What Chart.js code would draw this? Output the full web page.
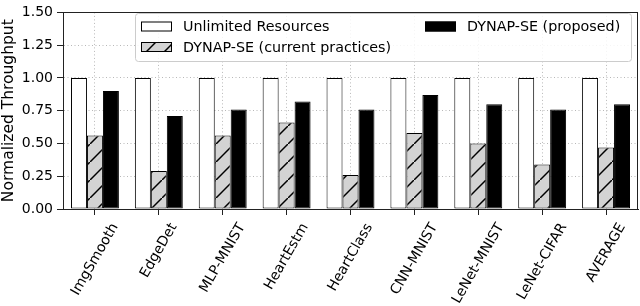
<!DOCTYPE html>
<html>
<head>
<meta charset="utf-8">
<script src="https://cdn.jsdelivr.net/npm/chart.js@4.4.1/dist/chart.umd.min.js"></script>
<style>
  html, body { margin: 0; padding: 0; background: #fff; }
  #wrap { width: 640px; height: 306px; }
</style>
</head>
<body>
<div id="wrap"><canvas id="chart" width="640" height="306"></canvas></div>
<script>
const categories = ["ImgSmooth", "EdgeDet", "MLP-MNIST", "HeartEstm", "HeartClass",
                    "CNN-MNIST", "LeNet-MNIST", "LeNet-CIFAR", "AVERAGE"];
const unlimited = [1, 1, 1, 1, 1, 1, 1, 1, 1];
const currentPractice = [0.56, 0.29, 0.56, 0.66, 0.26, 0.58, 0.50, 0.34, 0.47];
const proposed = [0.90, 0.71, 0.76, 0.82, 0.76, 0.87, 0.80, 0.76, 0.80];
const yTicks = [0, 0.25, 0.5, 0.75, 1.0, 1.25, 1.5];

const FONT = "DejaVu Sans";

// hatch "/" on light grey
function makeHatch() {
    const c = document.createElement("canvas");
    c.width = 18; c.height = 18;
    const g = c.getContext("2d");
    g.fillStyle = "#d3d3d3";
    g.fillRect(0, 0, 18, 18);
    g.strokeStyle = "#000";
    g.lineWidth = 1.5;
    g.beginPath();
    g.moveTo(-2, 20); g.lineTo(20, -2);
    g.stroke();
    return g.createPattern(c, "repeat");
}
const hatch = makeHatch();

const series = [
    { label: "Unlimited Resources", data: unlimited, fill: "#ffffff" },
    { label: "DYNAP-SE (current practices)", data: currentPractice, fill: hatch },
    { label: "DYNAP-SE (proposed)", data: proposed, fill: "#000000" }
];

const xLabelsPlugin = {
    id: "xLabels",
    afterDraw(chart) {
        const ctx = chart.ctx;
        const xs = chart.scales.x;
        const area = chart.chartArea;
        const size = 14;
        const ang = 60 * Math.PI / 180;
        ctx.save();
        ctx.font = size + "px '" + FONT + "'";
        ctx.fillStyle = "#000";
        ctx.textAlign = "center";
        ctx.textBaseline = "middle";
        categories.forEach((lab, i) => {
            const x = xs.getPixelForTick(i);
            const w = ctx.measureText(lab).width;
            const h = size;
            const bh = w * Math.sin(ang) + h * Math.cos(ang);
            const top = area.bottom + 12;
            ctx.save();
            ctx.translate(x, top + bh / 2);
            ctx.rotate(-ang);
            ctx.fillText(lab, 0, 0);
            ctx.restore();
        });
        ctx.restore();
    }
};

const framePlugin = {
    id: "frame",
    afterDraw(chart) {
        const ctx = chart.ctx;
        const a = chart.chartArea;
        ctx.save();
        ctx.strokeStyle = "#222";
        ctx.lineWidth = 1;
        ctx.strokeRect(Math.round(a.left) + 0.5, Math.round(a.top) + 0.5,
                       Math.round(a.right - a.left) - 1, Math.round(a.bottom - a.top));
        ctx.restore();
    }
};

const legendPlugin = {
    id: "boxLegend",
    afterDraw(chart) {
        const ctx = chart.ctx;
        const bx = 135.5, by = 13.5, bw = 496, bh = 48, r = 3;
        ctx.save();
        ctx.beginPath();
        ctx.moveTo(bx + r, by);
        ctx.lineTo(bx + bw - r, by);
        ctx.quadraticCurveTo(bx + bw, by, bx + bw, by + r);
        ctx.lineTo(bx + bw, by + bh - r);
        ctx.quadraticCurveTo(bx + bw, by + bh, bx + bw - r, by + bh);
        ctx.lineTo(bx + r, by + bh);
        ctx.quadraticCurveTo(bx, by + bh, bx, by + bh - r);
        ctx.lineTo(bx, by + r);
        ctx.quadraticCurveTo(bx, by, bx + r, by);
        ctx.closePath();
        ctx.fillStyle = "rgba(255,255,255,0.85)";
        ctx.fill();
        ctx.strokeStyle = "#cccccc";
        ctx.lineWidth = 1;
        ctx.stroke();

        const spots = [
            { hx: 141, ty: 26.5 },
            { hx: 141, ty: 47 },
            { hx: 425, ty: 26.5 }
        ];
        ctx.font = "14.3px '" + FONT + "'";
        ctx.textBaseline = "middle";
        ctx.textAlign = "left";
        series.forEach((s, i) => {
            const p = spots[i];
            ctx.fillStyle = s.fill;
            ctx.fillRect(p.hx, p.ty - 5, 31, 10);
            ctx.strokeStyle = "#000";
            ctx.strokeRect(p.hx + 0.5, p.ty - 4.5, 30, 9);
            ctx.fillStyle = "#000";
            ctx.fillText(s.label, p.hx + 42, p.ty + 1);
        });
        ctx.restore();
    }
};

new Chart(document.getElementById("chart"), {
    type: "bar",
    data: {
        labels: categories,
        datasets: series.map(s => ({
            label: s.label,
            data: s.data,
            backgroundColor: s.fill,
            borderColor: "#000",
            borderWidth: 1,
            borderSkipped: false,
            categoryPercentage: 0.75,
            barPercentage: 1.0
        }))
    },
    options: {
        responsive: false,
        animation: false,
        layout: { padding: { top: 7, right: 2, left: 0, bottom: 0 } },
        plugins: {
            legend: { display: false },
            tooltip: { enabled: false }
        },
        scales: {
            x: {
                z: 1,
                offset: true,
                grid: {
                    offset: false,
                    color: "#b8b8b8",
                    lineWidth: 1,
                    drawTicks: true,
                    tickLength: 6,
                    tickColor: "#222",
                    tickBorderDash: []
                },
                border: { display: true, color: "#222", dash: [1, 2.5] },
                ticks: { display: false },
                afterFit(scale) { scale.height = 97; }
            },
            y: {
                z: 1,
                min: 0,
                max: 1.5,
                afterBuildTicks(scale) {
                    scale.ticks = yTicks.map(v => ({ value: v }));
                },
                grid: {
                    color: "#b8b8b8",
                    lineWidth: 1,
                    drawTicks: true,
                    tickLength: 6,
                    tickColor: "#222",
                    tickBorderDash: []
                },
                border: { display: true, color: "#222", dash: [1, 2.5] },
                ticks: {
                    color: "#000",
                    padding: 4,
                    font: { family: FONT, size: 14 },
                    callback: v => Number(v).toFixed(2)
                },
                title: {
                    display: true,
                    text: "Normalized Throughput",
                    color: "#000",
                    padding: 0,
                    font: { family: FONT, size: 15.5 }
                },
                afterFit(scale) { scale.width = 63; }
            }
        }
    },
    plugins: [xLabelsPlugin, framePlugin, legendPlugin]
});
</script>
</body>
</html>
